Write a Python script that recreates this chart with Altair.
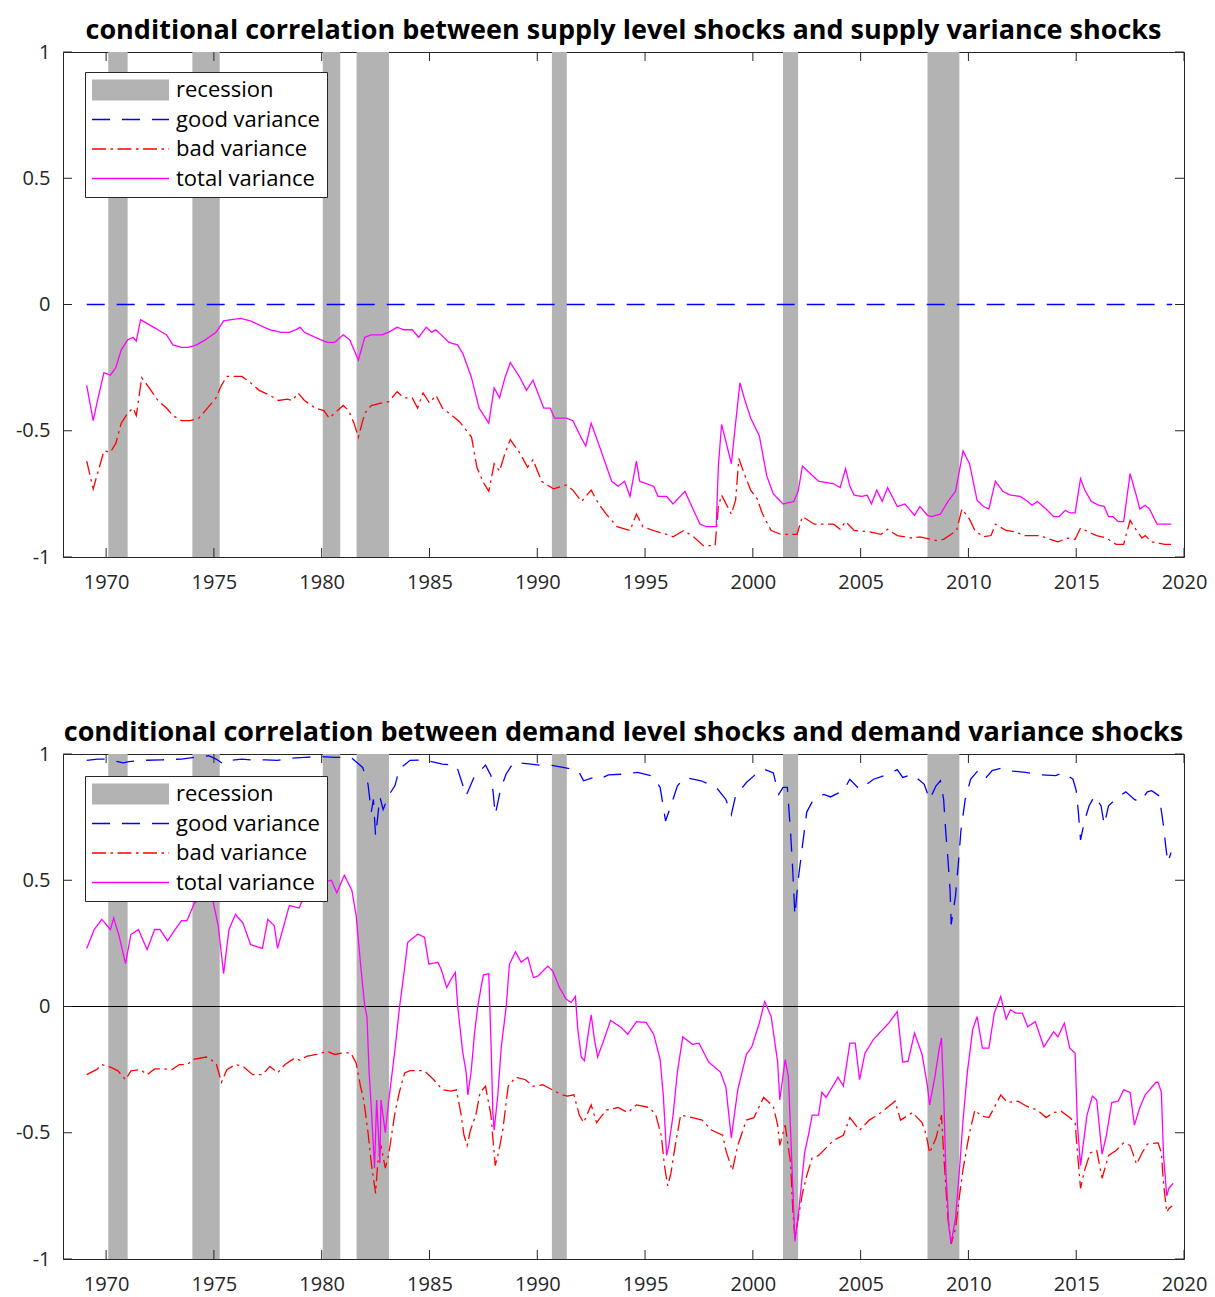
import altair as alt
import pandas as pd

# ---------------- categories / labels ----------------
SERIES_NAMES = ["recession", "good variance", "bad variance", "total variance"]
SERIES_COLORS = ["#b3b3b3", "#0000ff", "#ff0000", "#ff00ff"]
SERIES_DASHES = [[1, 0], [18, 12], [14, 4.5, 2.5, 4.5], [1, 0]]

TITLE_TOP = "conditional correlation between supply level shocks and supply variance shocks"
TITLE_BOT = "conditional correlation between demand level shocks and demand variance shocks"

X_TICKS = [1970, 1975, 1980, 1985, 1990, 1995, 2000, 2005, 2010, 2015, 2020]
Y_TICKS = [-1, -0.5, 0, 0.5, 1]

REC_START = [1970.1, 1974.0, 1980.05, 1981.62, 1990.68, 2001.4, 2008.1]
REC_END = [1971.0, 1975.27, 1980.86, 1983.12, 1991.37, 2002.1, 2009.58]

# ---------------- top panel (supply) ----------------
TOP_GOOD_YEARS = [1969.1, 2019.45]
TOP_GOOD_VALUES = [0.0, 0.0]

TOP_BAD_YEARS = [
    1969.1, 1969.4, 1969.6, 1969.9, 1970.2, 1970.45, 1970.7, 1971.0, 1971.25, 1971.4,
    1971.65, 1972.0, 1972.4, 1972.8, 1973.1, 1973.5, 1973.9, 1974.3, 1974.6, 1975.1,
    1975.35, 1975.6, 1976.3, 1976.7, 1977.1, 1977.6, 1978.0, 1978.4, 1978.65, 1978.9,
    1979.2, 1979.7, 1980.1, 1980.35, 1980.6, 1981.0, 1981.25, 1981.5, 1981.7, 1982.0,
    1982.3, 1982.8, 1983.1, 1983.5, 1983.8, 1984.2, 1984.45, 1984.7, 1985.0, 1985.3,
    1985.6, 1986.05, 1986.4, 1986.95, 1987.2, 1987.5, 1987.75, 1988.0, 1988.25, 1988.5,
    1988.75, 1989.2, 1989.55, 1989.8, 1990.2, 1990.75, 1991.35, 1991.65, 1992.05, 1992.5,
    1992.85, 1993.2, 1993.7, 1994.3, 1994.6, 1994.9, 1995.55, 1996.0, 1996.3, 1996.8,
    1997.25, 1997.7, 1998.25, 1998.4, 1998.55, 1999.0, 1999.2, 1999.35, 1999.6, 1999.9,
    2000.2, 2000.45, 2000.85, 2001.3, 2002.05, 2002.3, 2002.85, 2003.75, 2004.05, 2004.3,
    2004.7, 2005.4, 2005.95, 2006.25, 2006.7, 2007.4, 2007.75, 2008.5, 2008.85, 2009.2,
    2009.45, 2009.7, 2010.05, 2010.3, 2010.7, 2011.05, 2011.25, 2011.75, 2012.15, 2012.6,
    2013.3, 2013.8, 2014.15, 2014.6, 2014.95, 2015.2, 2015.55, 2015.95, 2016.4, 2016.85,
    2017.2, 2017.5, 2017.8, 2018.05, 2018.2, 2018.5, 2019.1, 2019.4,
]
TOP_BAD_VALUES = [
    -0.62, -0.73, -0.67, -0.58, -0.585, -0.55, -0.47, -0.43, -0.41, -0.44,
    -0.29, -0.33, -0.38, -0.41, -0.44, -0.46, -0.46, -0.45, -0.42, -0.37,
    -0.32, -0.285, -0.285, -0.31, -0.34, -0.36, -0.38, -0.375, -0.38, -0.35,
    -0.38, -0.41, -0.42, -0.45, -0.43, -0.40, -0.42, -0.47, -0.525, -0.43,
    -0.40, -0.39, -0.385, -0.345, -0.37, -0.37, -0.41, -0.35, -0.39, -0.36,
    -0.41, -0.44, -0.465, -0.525, -0.645, -0.705, -0.74, -0.63, -0.66, -0.59,
    -0.535, -0.59, -0.645, -0.615, -0.70, -0.73, -0.715, -0.735, -0.78, -0.735,
    -0.79, -0.83, -0.88, -0.895, -0.83, -0.88, -0.90, -0.91, -0.92, -0.895,
    -0.92, -0.955, -0.955, -0.80, -0.755, -0.83, -0.775, -0.61, -0.67, -0.735,
    -0.77, -0.83, -0.895, -0.91, -0.91, -0.84, -0.87, -0.87, -0.89, -0.86,
    -0.895, -0.90, -0.91, -0.89, -0.915, -0.925, -0.92, -0.935, -0.93, -0.91,
    -0.895, -0.81, -0.85, -0.895, -0.92, -0.915, -0.87, -0.895, -0.90, -0.915,
    -0.915, -0.93, -0.94, -0.925, -0.93, -0.885, -0.90, -0.915, -0.925, -0.95,
    -0.95, -0.855, -0.895, -0.925, -0.915, -0.94, -0.95, -0.95,
]

TOP_TOTAL_YEARS = [
    1969.1, 1969.4, 1969.6, 1969.9, 1970.2, 1970.45, 1970.7, 1971.0, 1971.25, 1971.4,
    1971.6, 1972.0, 1972.4, 1972.8, 1973.1, 1973.5, 1973.8, 1974.2, 1974.6, 1975.1,
    1975.45, 1975.8, 1976.25, 1976.7, 1977.2, 1977.6, 1978.1, 1978.5, 1978.8, 1979.0,
    1979.2, 1979.7, 1980.25, 1980.6, 1981.0, 1981.3, 1981.7, 1982.0, 1982.3, 1982.8,
    1983.1, 1983.5, 1983.8, 1984.2, 1984.5, 1984.85, 1985.1, 1985.3, 1985.9, 1986.3,
    1986.55, 1986.95, 1987.3, 1987.75, 1988.0, 1988.25, 1988.5, 1988.75, 1989.2, 1989.5,
    1989.8, 1990.3, 1990.6, 1990.8, 1991.35, 1991.65, 1992.05, 1992.25, 1992.5, 1992.9,
    1993.45, 1993.75, 1994.05, 1994.3, 1994.6, 1994.75, 1995.4, 1995.6, 1996.0, 1996.3,
    1996.85, 1997.25, 1997.55, 1997.85, 1998.3, 1998.4, 1998.55, 1998.7, 1999.0, 1999.2,
    1999.4, 1999.6, 1999.9, 2000.3, 2000.65, 2000.95, 2001.4, 2001.9, 2002.1, 2002.3,
    2003.05, 2003.75, 2004.05, 2004.3, 2004.5, 2004.7, 2005.05, 2005.3, 2005.5, 2005.75,
    2006.0, 2006.25, 2006.7, 2007.05, 2007.5, 2007.75, 2008.1, 2008.3, 2008.7, 2009.05,
    2009.4, 2009.6, 2009.75, 2010.05, 2010.4, 2010.7, 2010.95, 2011.25, 2011.6, 2011.95,
    2012.4, 2012.75, 2012.95, 2013.2, 2013.6, 2013.95, 2014.2, 2014.5, 2014.7, 2014.95,
    2015.2, 2015.4, 2015.7, 2016.05, 2016.3, 2016.5, 2016.7, 2016.95, 2017.2, 2017.5,
    2017.8, 2017.95, 2018.2, 2018.4, 2018.75, 2019.4,
]
TOP_TOTAL_VALUES = [
    -0.32, -0.46, -0.38, -0.27, -0.28, -0.25, -0.18, -0.14, -0.13, -0.145,
    -0.06, -0.08, -0.10, -0.12, -0.16, -0.17, -0.17, -0.16, -0.14, -0.11,
    -0.065, -0.06, -0.055, -0.065, -0.085, -0.10, -0.11, -0.11, -0.10, -0.09,
    -0.11, -0.13, -0.15, -0.15, -0.12, -0.14, -0.22, -0.13, -0.12, -0.12,
    -0.11, -0.09, -0.10, -0.10, -0.13, -0.09, -0.11, -0.10, -0.15, -0.16,
    -0.195, -0.29, -0.41, -0.47, -0.33, -0.37, -0.29, -0.23, -0.29, -0.34,
    -0.30, -0.41, -0.41, -0.45, -0.45, -0.46, -0.53, -0.56, -0.47, -0.565,
    -0.70, -0.72, -0.70, -0.76, -0.62, -0.70, -0.72, -0.76, -0.76, -0.79,
    -0.74, -0.815, -0.87, -0.88, -0.88, -0.64, -0.475, -0.525, -0.63, -0.47,
    -0.31, -0.37, -0.45, -0.52, -0.68, -0.75, -0.79, -0.78, -0.74, -0.64,
    -0.70, -0.71, -0.725, -0.65, -0.72, -0.755, -0.76, -0.755, -0.79, -0.735,
    -0.78, -0.725, -0.80, -0.79, -0.835, -0.80, -0.835, -0.84, -0.83, -0.78,
    -0.74, -0.65, -0.58, -0.63, -0.775, -0.80, -0.81, -0.70, -0.74, -0.755,
    -0.76, -0.78, -0.795, -0.78, -0.81, -0.84, -0.84, -0.815, -0.825, -0.825,
    -0.69, -0.735, -0.78, -0.795, -0.80, -0.84, -0.84, -0.86, -0.86, -0.67,
    -0.76, -0.81, -0.795, -0.81, -0.87, -0.87,
]

# ---------------- bottom panel (demand) ----------------
BOT_GOOD_YEARS = [
    1969.1, 1969.6, 1969.9, 1970.25, 1970.8, 1971.05, 1971.7, 1972.6, 1973.5, 1974.1,
    1974.75, 1975.1, 1975.45, 1975.8, 1976.3, 1976.9, 1977.4, 1977.95, 1978.5, 1979.2,
    1979.9, 1980.6, 1981.35, 1981.9, 1982.15, 1982.3, 1982.4, 1982.5, 1982.7, 1982.85,
    1983.1, 1983.4, 1983.6, 1984.1, 1984.75, 1985.6, 1986.25, 1986.7, 1987.05, 1987.6,
    1987.85, 1987.95, 1988.05, 1988.3, 1988.55, 1988.9, 1989.7, 1990.1, 1990.6, 1991.2,
    1991.9, 1992.15, 1992.6, 1992.85, 1993.3, 1993.95, 1994.65, 1995.3, 1995.7, 1995.95,
    1996.2, 1996.5, 1996.85, 1997.6, 1998.3, 1998.75, 1999.0, 1999.2, 1999.7, 2000.2,
    2000.5, 2000.95, 2001.2, 2001.4, 2001.6, 2001.75, 2001.85, 2001.95, 2002.1, 2002.3,
    2002.5, 2002.75, 2003.05, 2003.3, 2003.6, 2004.2, 2004.5, 2004.95, 2005.6, 2006.3,
    2006.7, 2006.95, 2007.4, 2007.95, 2008.2, 2008.5, 2008.7, 2008.85, 2008.95, 2009.05,
    2009.15, 2009.2, 2009.4, 2009.55, 2009.65, 2009.85, 2010.1, 2010.4, 2010.75, 2011.1,
    2011.5, 2011.85, 2012.65, 2013.4, 2014.05, 2014.4, 2014.85, 2015.0, 2015.1, 2015.2,
    2015.4, 2015.6, 2015.85, 2016.15, 2016.3, 2016.5, 2016.95, 2017.3, 2017.7, 2017.95,
    2018.3, 2018.5, 2018.85, 2019.05, 2019.15, 2019.25, 2019.4,
]
BOT_GOOD_VALUES = [
    0.975, 0.98, 0.98, 0.975, 0.965, 0.97, 0.975, 0.977, 0.98, 0.987,
    0.993, 0.98, 0.96, 0.975, 0.98, 0.975, 0.977, 0.975, 0.983, 0.987,
    0.99, 0.987, 0.987, 0.947, 0.88, 0.77, 0.82, 0.675, 0.83, 0.78,
    0.835, 0.875, 0.94, 0.975, 0.976, 0.96, 0.955, 0.835, 0.905, 0.956,
    0.915, 0.85, 0.76, 0.86, 0.92, 0.967, 0.96, 0.956, 0.956, 0.947,
    0.934, 0.894, 0.907, 0.90, 0.917, 0.92, 0.927, 0.914, 0.868, 0.735,
    0.795, 0.874, 0.907, 0.894, 0.868, 0.82, 0.76, 0.834, 0.887, 0.925,
    0.94, 0.925, 0.84, 0.868, 0.868, 0.69, 0.54, 0.36, 0.50, 0.636,
    0.77, 0.81, 0.83, 0.84, 0.83, 0.855, 0.90, 0.86, 0.90, 0.92,
    0.938, 0.907, 0.92, 0.88, 0.82, 0.874, 0.894, 0.82, 0.69, 0.583,
    0.46, 0.325, 0.437, 0.583, 0.695, 0.82, 0.90, 0.93, 0.90, 0.934,
    0.943, 0.934, 0.927, 0.917, 0.914, 0.927, 0.90, 0.855, 0.77, 0.66,
    0.74, 0.795, 0.834, 0.795, 0.72, 0.795, 0.83, 0.85, 0.82, 0.81,
    0.85, 0.855, 0.834, 0.715, 0.636, 0.57, 0.61,
]

BOT_BAD_YEARS = [
    1969.1, 1969.55, 1969.8, 1970.2, 1970.55, 1970.9, 1971.15, 1971.6, 1971.9, 1972.25,
    1972.7, 1973.05, 1973.4, 1973.75, 1974.1, 1974.65, 1975.1, 1975.35, 1975.6, 1976.0,
    1976.35, 1976.8, 1977.25, 1977.6, 1977.95, 1978.3, 1978.75, 1979.0, 1979.3, 1979.75,
    1980.25, 1980.6, 1981.0, 1981.35, 1981.6, 1981.8, 1981.95, 1982.15, 1982.3, 1982.5,
    1982.6, 1982.75, 1982.95, 1983.1, 1983.4, 1983.6, 1983.85, 1984.1, 1984.75, 1985.2,
    1985.6, 1986.0, 1986.25, 1986.45, 1986.6, 1986.75, 1986.9, 1987.15, 1987.35, 1987.6,
    1987.85, 1988.05, 1988.2, 1988.4, 1988.65, 1989.0, 1989.45, 1989.8, 1990.25, 1990.7,
    1991.15, 1991.4, 1991.7, 1991.95, 1992.15, 1992.5, 1992.75, 1993.2, 1993.75, 1994.2,
    1994.6, 1995.2, 1995.5, 1995.75, 1995.9, 1996.05, 1996.2, 1996.4, 1996.65, 1997.2,
    1997.65, 1998.1, 1998.6, 1998.75, 1999.05, 1999.3, 1999.7, 2000.05, 2000.5, 2000.95,
    2001.15, 2001.25, 2001.5, 2001.75, 2001.85, 2001.95, 2002.1, 2002.3, 2002.5, 2002.75,
    2003.05, 2003.4, 2003.75, 2004.2, 2004.5, 2004.95, 2005.4, 2005.95, 2006.6, 2006.85,
    2007.4, 2007.85, 2008.05, 2008.2, 2008.5, 2008.7, 2008.75, 2008.85, 2009.05, 2009.2,
    2009.4, 2009.6, 2009.75, 2010.05, 2010.3, 2010.6, 2010.95, 2011.2, 2011.5, 2011.8,
    2012.3, 2012.7, 2013.2, 2013.6, 2013.95, 2014.3, 2014.7, 2014.95, 2015.05, 2015.2,
    2015.4, 2015.65, 2015.95, 2016.2, 2016.5, 2016.85, 2017.2, 2017.5, 2017.8, 2018.05,
    2018.3, 2018.8, 2018.95, 2019.05, 2019.2, 2019.3, 2019.45,
]
BOT_BAD_VALUES = [
    -0.27, -0.25, -0.23, -0.24, -0.255, -0.29, -0.255, -0.25, -0.27, -0.247,
    -0.247, -0.25, -0.23, -0.23, -0.208, -0.20, -0.224, -0.30, -0.25, -0.23,
    -0.237, -0.27, -0.27, -0.237, -0.263, -0.23, -0.204, -0.213, -0.197, -0.19,
    -0.178, -0.19, -0.184, -0.184, -0.224, -0.316, -0.37, -0.50, -0.62, -0.74,
    -0.62, -0.55, -0.64, -0.59, -0.42, -0.34, -0.263, -0.254, -0.254, -0.29,
    -0.33, -0.335, -0.33, -0.42, -0.51, -0.55, -0.49, -0.43, -0.34, -0.316,
    -0.43, -0.63, -0.58, -0.49, -0.316, -0.28, -0.29, -0.316, -0.31, -0.33,
    -0.35, -0.355, -0.35, -0.43, -0.46, -0.39, -0.46, -0.41, -0.40, -0.42,
    -0.39, -0.40, -0.43, -0.51, -0.63, -0.71, -0.66, -0.55, -0.43, -0.44,
    -0.45, -0.49, -0.51, -0.57, -0.65, -0.55, -0.45, -0.44, -0.36, -0.395,
    -0.47, -0.55, -0.47, -0.62, -0.80, -0.92, -0.84, -0.74, -0.67, -0.60,
    -0.59, -0.56, -0.53, -0.51, -0.44, -0.49, -0.45, -0.42, -0.375, -0.45,
    -0.42, -0.46, -0.51, -0.58, -0.52, -0.45, -0.43, -0.58, -0.84, -0.94,
    -0.88, -0.74, -0.645, -0.50, -0.41, -0.434, -0.44, -0.40, -0.35, -0.38,
    -0.375, -0.395, -0.41, -0.44, -0.42, -0.415, -0.44, -0.46, -0.57, -0.72,
    -0.645, -0.58, -0.57, -0.68, -0.59, -0.57, -0.54, -0.55, -0.625, -0.58,
    -0.545, -0.54, -0.58, -0.70, -0.815, -0.80, -0.79,
]

BOT_TOTAL_YEARS = [
    1969.1, 1969.45, 1969.8, 1970.2, 1970.35, 1970.6, 1970.9, 1971.15, 1971.5, 1971.9,
    1972.25, 1972.5, 1972.85, 1973.2, 1973.5, 1973.75, 1974.1, 1974.55, 1974.9, 1975.2,
    1975.45, 1975.7, 1976.0, 1976.35, 1976.7, 1977.25, 1977.5, 1977.8, 1977.95, 1978.5,
    1978.95, 1979.2, 1979.6, 1980.0, 1980.45, 1980.7, 1981.05, 1981.4, 1981.6, 1981.8,
    1982.0, 1982.1, 1982.2, 1982.3, 1982.45, 1982.55, 1982.7, 1982.75, 1982.95, 1983.1,
    1983.4, 1983.6, 1983.84, 1983.99, 1984.46, 1984.77, 1984.97, 1985.39, 1985.54, 1985.8,
    1986.0, 1986.2, 1986.31, 1986.54, 1986.7, 1986.78, 1986.93, 1987.09, 1987.24, 1987.4,
    1987.5, 1987.75, 1987.86, 1987.94, 1988.0, 1988.17, 1988.33, 1988.56, 1988.71, 1988.99,
    1989.25, 1989.56, 1989.82, 1990.02, 1990.49, 1990.72, 1991.03, 1991.34, 1991.57, 1991.77,
    1991.88, 1992.04, 1992.19, 1992.34, 1992.5, 1992.65, 1992.8, 1993.12, 1993.4, 1993.89,
    1994.2, 1994.6, 1995.05, 1995.4, 1995.7, 1995.85, 1996.0, 1996.1, 1996.3, 1996.5,
    1996.75, 1997.2, 1997.5, 1997.95, 1998.5, 1998.75, 1999.0, 1999.3, 1999.7, 1999.95,
    2000.3, 2000.55, 2000.85, 2001.15, 2001.25, 2001.5, 2001.65, 2001.75, 2001.95, 2002.1,
    2002.2, 2002.4, 2002.6, 2002.75, 2003.05, 2003.2, 2003.4, 2003.95, 2004.2, 2004.5,
    2004.75, 2004.95, 2005.2, 2005.6, 2006.3, 2006.7, 2006.95, 2007.2, 2007.5, 2007.85,
    2008.1, 2008.2, 2008.45, 2008.65, 2008.75, 2008.85, 2008.95, 2009.1, 2009.2, 2009.4,
    2009.6, 2009.75, 2009.95, 2010.2, 2010.4, 2010.65, 2010.95, 2011.2, 2011.5, 2011.75,
    2011.95, 2012.2, 2012.5, 2012.75, 2013.1, 2013.5, 2013.95, 2014.15, 2014.45, 2014.7,
    2014.95, 2015.05, 2015.2, 2015.5, 2015.75, 2015.95, 2016.2, 2016.4, 2016.65, 2016.95,
    2017.2, 2017.5, 2017.7, 2017.95, 2018.2, 2018.7, 2018.8, 2018.95, 2019.05, 2019.2,
    2019.3, 2019.5,
]
BOT_TOTAL_VALUES = [
    0.23, 0.305, 0.345, 0.305, 0.35, 0.28, 0.17, 0.285, 0.305, 0.225,
    0.305, 0.305, 0.26, 0.305, 0.34, 0.34, 0.41, 0.44, 0.44, 0.32,
    0.13, 0.305, 0.365, 0.33, 0.245, 0.23, 0.345, 0.32, 0.23, 0.40,
    0.39, 0.44, 0.47, 0.49, 0.50, 0.45, 0.52, 0.46, 0.36, 0.17,
    0.0, -0.04, -0.26, -0.40, -0.64, -0.37, -0.62, -0.37, -0.50, -0.38,
    -0.17, -0.01, 0.148, 0.254, 0.287, 0.274, 0.168, 0.175, 0.148, 0.075,
    0.108, 0.135, 0.0, -0.18, -0.26, -0.35, -0.26, -0.105, 0.0, 0.08,
    0.125, 0.13, -0.16, -0.42, -0.49, -0.35, -0.16, 0.0, 0.168, 0.217,
    0.175, 0.195, 0.115, 0.12, 0.16, 0.14, 0.075, 0.029, 0.016, 0.04,
    -0.09, -0.20, -0.215, -0.12, -0.033, -0.13, -0.20, -0.125, -0.055, -0.083,
    -0.11, -0.06, -0.063, -0.11, -0.21, -0.355, -0.59, -0.55, -0.43, -0.26,
    -0.12, -0.15, -0.145, -0.22, -0.26, -0.32, -0.52, -0.33, -0.19, -0.16,
    -0.066, 0.02, -0.04, -0.22, -0.37, -0.21, -0.28, -0.49, -0.93, -0.83,
    -0.75, -0.58, -0.50, -0.43, -0.43, -0.34, -0.36, -0.28, -0.315, -0.145,
    -0.145, -0.29, -0.185, -0.13, -0.066, -0.02, -0.22, -0.217, -0.105, -0.19,
    -0.315, -0.39, -0.276, -0.165, -0.125, -0.34, -0.645, -0.88, -0.935, -0.84,
    -0.63, -0.45, -0.26, -0.09, -0.04, -0.165, -0.165, -0.026, 0.04, -0.05,
    -0.013, -0.026, -0.026, -0.08, -0.06, -0.16, -0.10, -0.12, -0.066, -0.165,
    -0.185, -0.46, -0.63, -0.43, -0.355, -0.37, -0.585, -0.51, -0.38, -0.375,
    -0.33, -0.34, -0.47, -0.40, -0.35, -0.30, -0.30, -0.34, -0.59, -0.75,
    -0.72, -0.70,
]

# ---------------- styling ----------------
FONT = "Open Sans"
AXIS_COLOR = "#262626"
PLOT_W, PLOT_H = 1121, 505
X_DOMAIN = [1968, 2020]
Y_DOMAIN = [-1, 1]
TICK_PX = 9
TICK_DY = TICK_PX / PLOT_H * (Y_DOMAIN[1] - Y_DOMAIN[0])
TICK_DX = TICK_PX / PLOT_W * (X_DOMAIN[1] - X_DOMAIN[0])

LEG_X, LEG_PAD = 22, 7
LEG_FONT_SIZE = 22
LINE_SYMBOL = "M-2.2,0H13.2"
RECT_SYMBOL = "M-2.2,-2.1H13.2V2.1H-2.2Z"


def frame(years, values, name):
    return pd.DataFrame({"year": years, "value": values, "series": name})


def base_legend(leg_y):
    # the boxed legend (drawn from the line layer: colour + dash merged)
    return alt.Legend(
        title=None, orient="none", legendX=LEG_X, legendY=leg_y,
        fillColor="white", strokeColor=AXIS_COLOR, padding=LEG_PAD, cornerRadius=0,
        rowPadding=7.5, labelFont=FONT, labelFontSize=LEG_FONT_SIZE, labelColor="black",
        labelOffset=62, labelLimit=400, symbolSize=100, symbolStrokeWidth=1.3,
        symbolType=LINE_SYMBOL, symbolOpacity=1,
    )


def swatch_legend(leg_y):
    # gray swatch for the "recession" entry, drawn on top of the first row
    return alt.Legend(
        title=None, orient="none", legendX=LEG_X, legendY=leg_y, padding=LEG_PAD,
        rowPadding=7.5, labelFont=FONT, labelFontSize=LEG_FONT_SIZE,
        labelColor="rgba(0,0,0,0)", labelOffset=62, labelLimit=400, symbolSize=100,
        symbolStrokeWidth=0, symbolType=RECT_SYMBOL, symbolOpacity=1,
    )


def panel(title, good, bad, total, zero_line, title_offset, leg_y):
    xs = alt.Scale(domain=X_DOMAIN, nice=False, zero=False)
    ys = alt.Scale(domain=Y_DOMAIN, nice=False, zero=False)
    x_axis = alt.Axis(values=X_TICKS, format="d", title=None, grid=False, ticks=False,
                      domain=False, labelFont=FONT, labelFontSize=20, labelColor=AXIS_COLOR,
                      labelPadding=15, labelFlush=False, labelOverlap=False)
    y_axis = alt.Axis(values=Y_TICKS, labelExpr="toString(datum.value)", title=None,
                      grid=False, ticks=False, domain=False, labelFont=FONT,
                      labelFontSize=20, labelColor=AXIS_COLOR, labelPadding=13,
                      labelOverlap=False)

    rec_df = pd.DataFrame({"start": REC_START, "end": REC_END, "series": SERIES_NAMES[0]})
    rec = alt.Chart(rec_df).mark_rect(color=SERIES_COLORS[0]).encode(
        x=alt.X("start:Q", scale=xs, axis=x_axis),
        x2="end:Q",
        y=alt.YDatum(Y_DOMAIN[0], scale=ys, axis=y_axis),
        y2=alt.Y2Datum(Y_DOMAIN[1]),
    )
    layers = [rec]

    if zero_line:
        zdf = pd.DataFrame({"v": [0.0]})
        layers.append(alt.Chart(zdf).mark_rule(color="black", strokeWidth=1.2).encode(
            y=alt.Y("v:Q", scale=ys, axis=y_axis)))

    lines_df = pd.concat([
        frame(good[0], good[1], SERIES_NAMES[1]),
        frame(bad[0], bad[1], SERIES_NAMES[2]),
        frame(total[0], total[1], SERIES_NAMES[3]),
    ], ignore_index=True)
    leg = base_legend(leg_y)
    lines = alt.Chart(lines_df).mark_line(strokeWidth=1.3).encode(
        x=alt.X("year:Q", scale=xs, axis=x_axis),
        y=alt.Y("value:Q", scale=ys, axis=y_axis),
        color=alt.Color("series:N", scale=alt.Scale(domain=SERIES_NAMES, range=SERIES_COLORS), legend=leg),
        strokeDash=alt.StrokeDash("series:N", scale=alt.Scale(domain=SERIES_NAMES, range=SERIES_DASHES), legend=leg),
    )
    layers.append(lines)

    # inward ticks on all four sides (MATLAB box style)
    xt = pd.DataFrame({"t": X_TICKS})
    yt = pd.DataFrame({"t": Y_TICKS})
    tick_mark = dict(color=AXIS_COLOR, strokeWidth=1)
    layers.append(alt.Chart(xt).mark_rule(**tick_mark).encode(
        x=alt.X("t:Q", scale=xs, axis=x_axis),
        y=alt.YDatum(Y_DOMAIN[0], scale=ys, axis=y_axis), y2=alt.Y2Datum(Y_DOMAIN[0] + TICK_DY)))
    layers.append(alt.Chart(xt).mark_rule(**tick_mark).encode(
        x=alt.X("t:Q", scale=xs, axis=x_axis),
        y=alt.YDatum(Y_DOMAIN[1], scale=ys, axis=y_axis), y2=alt.Y2Datum(Y_DOMAIN[1] - TICK_DY)))
    layers.append(alt.Chart(yt).mark_rule(**tick_mark).encode(
        y=alt.Y("t:Q", scale=ys, axis=y_axis),
        x=alt.XDatum(X_DOMAIN[0], scale=xs, axis=x_axis), x2=alt.X2Datum(X_DOMAIN[0] + TICK_DX)))
    layers.append(alt.Chart(yt).mark_rule(**tick_mark).encode(
        y=alt.Y("t:Q", scale=ys, axis=y_axis),
        x=alt.XDatum(X_DOMAIN[1], scale=xs, axis=x_axis), x2=alt.X2Datum(X_DOMAIN[1] - TICK_DX)))

    # invisible layer that only supplies the gray "recession" legend swatch
    swatch = alt.Chart(rec_df).mark_rect(opacity=0).encode(
        x=alt.X("start:Q", scale=xs, axis=x_axis),
        x2="end:Q",
        y=alt.YDatum(Y_DOMAIN[0], scale=ys, axis=y_axis),
        y2=alt.Y2Datum(Y_DOMAIN[1]),
        fill=alt.Fill("series:N", scale=alt.Scale(domain=SERIES_NAMES[:1], range=SERIES_COLORS[:1]),
                      legend=swatch_legend(leg_y)),
    )
    layers.append(swatch)

    return alt.layer(*layers).properties(
        width=PLOT_W, height=PLOT_H,
        title=alt.TitleParams(text=title, font=FONT, fontSize=27, fontWeight="bold",
                              color="black", anchor="middle", offset=title_offset,
                              baseline="alphabetic"),
    )


def build(title_offset):
    top = panel(TITLE_TOP, (TOP_GOOD_YEARS, TOP_GOOD_VALUES), (TOP_BAD_YEARS, TOP_BAD_VALUES),
                (TOP_TOTAL_YEARS, TOP_TOTAL_VALUES), False, title_offset, 20)
    bot = panel(TITLE_BOT, (BOT_GOOD_YEARS, BOT_GOOD_VALUES), (BOT_BAD_YEARS, BOT_BAD_VALUES),
                (BOT_TOTAL_YEARS, BOT_TOTAL_VALUES), True, title_offset, 22)
    return alt.vconcat(top, bot, spacing=125).resolve_scale(
        color="independent", strokeDash="independent", fill="independent",
    ).resolve_legend(
        color="independent", strokeDash="independent", fill="independent",
    ).properties(
        padding={"left": 14, "top": 16, "right": 2, "bottom": 0},
        background="white",
    ).configure_view(stroke=AXIS_COLOR, strokeWidth=1)


chart = None
for off in (-24, 0):
    try:
        candidate = build(off)
        candidate.to_dict()
        chart = candidate
        break
    except Exception:
        continue

chart.save("out.html", embed_options={"renderer": "svg", "actions": False})
